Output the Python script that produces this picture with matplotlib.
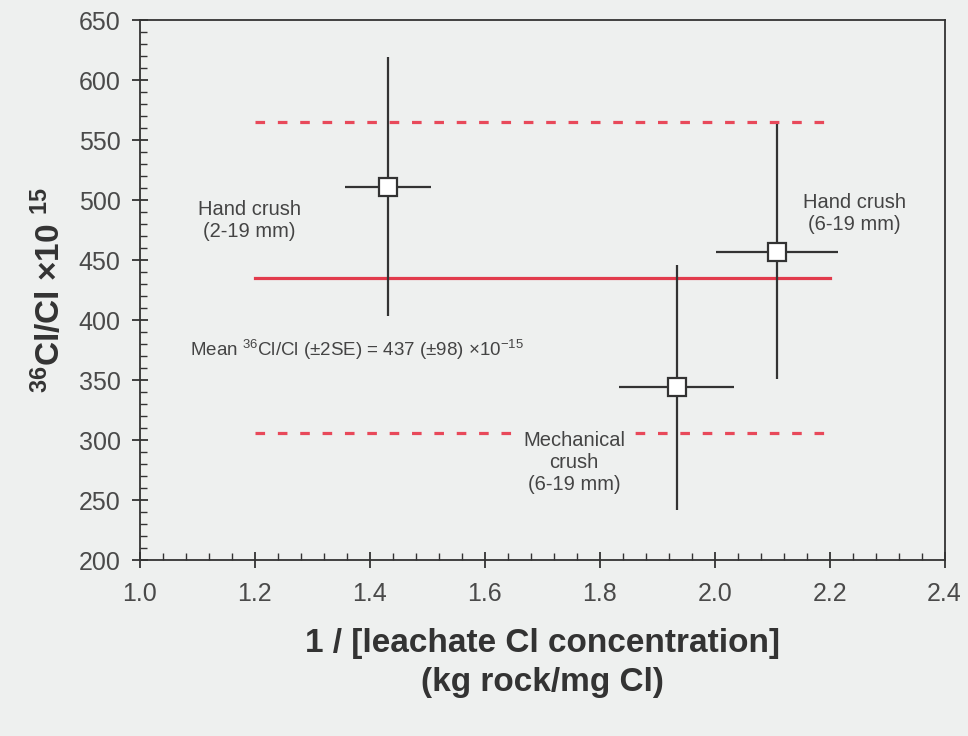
import matplotlib
matplotlib.use('Agg')
import matplotlib.pyplot as plt
from matplotlib.ticker import MultipleLocator

# data
inv_conc = [1.431, 1.934, 2.108]
inv_conc_err = [0.075, 0.100, 0.106]
ratio = [511, 344, 457]
ratio_err = [108, 102, 106]

mean_ratio = 435
band_upper = 565
band_lower = 306
line_x = [1.2, 2.2]

labels = ['Hand crush\n(2-19 mm)', 'Mechanical\ncrush\n(6-19 mm)', 'Hand crush\n(6-19 mm)']
label_x = [1.19, 1.755, 2.243]
label_y = [483, 281, 489]

plt.rcParams['font.family'] = ['Liberation Sans', 'DejaVu Sans']
plt.rcParams['mathtext.fontset'] = 'custom'
plt.rcParams['mathtext.rm'] = 'Liberation Sans'
plt.rcParams['mathtext.it'] = 'Liberation Sans:italic'
plt.rcParams['mathtext.bf'] = 'Liberation Sans:bold'

bg = '#eef0ef'
fig = plt.figure(figsize=(9.68, 7.36), dpi=100, facecolor=bg)
ax = fig.add_axes([0.1446, 0.2391, 0.8312, 0.7337], facecolor=bg)

# mean and +/- band
ax.plot(line_x, [mean_ratio] * 2, color='#e23b4c', lw=2.3, zorder=1)
for yv in (band_upper, band_lower):
    ax.plot(line_x, [yv] * 2, color='#e8495a', lw=2.3, dashes=(3, 4), zorder=1)

ax.errorbar(inv_conc, ratio, xerr=inv_conc_err, yerr=ratio_err, fmt='s',
            color='#333333', ecolor='#333333', elinewidth=1.6, capsize=0,
            markersize=13, markerfacecolor='white', markeredgecolor='#333333',
            markeredgewidth=1.6, zorder=3)

for t, x, y in zip(labels, label_x, label_y):
    ax.text(x, y, t, ha='center', va='center', fontsize=14.5, color='#444444',
            linespacing=1.2, zorder=2,
            bbox=dict(facecolor=bg, edgecolor='none', pad=5))

ax.text(1.087, 375, r'Mean $\mathrm{^{36}}$Cl/Cl ($\mathrm{\pm}$2SE) = 437 ($\mathrm{\pm}$98) $\mathrm{\times}$10$\mathrm{^{-15}}$',
        ha='left', va='center', fontsize=13.5, color='#444444')

ax.set_xlim(1.0, 2.4)
ax.set_ylim(200, 650)
ax.xaxis.set_major_locator(MultipleLocator(0.2))
ax.xaxis.set_minor_locator(MultipleLocator(0.04))
ax.yaxis.set_major_locator(MultipleLocator(50))
ax.yaxis.set_minor_locator(MultipleLocator(10))
ax.xaxis.set_major_formatter(plt.FuncFormatter(lambda v, p: f'{v:.1f}'))

ax.tick_params(which='major', direction='inout', length=12, width=1.3,
               colors='#333333', labelsize=18, labelcolor='#4a4a4a')
ax.tick_params(which='minor', direction='in', length=5, width=1.0, colors='#333333')
ax.tick_params(axis='x', which='major', pad=10)
ax.tick_params(axis='y', which='major', pad=8)
for s in ax.spines.values():
    s.set_color('#333333')
    s.set_linewidth(1.3)

ax.set_ylabel(r'$\mathbf{^{36}}$Cl/Cl $\mathbf{\times}$10 $\mathbf{^{15}}$',
              fontsize=24, fontweight='bold', color='#333333', labelpad=8)
ax.set_xlabel('1 / [leachate Cl concentration]\n(kg rock/mg Cl)',
              fontsize=24, fontweight='bold', color='#333333', labelpad=16,
              linespacing=1.3)

fig.savefig('out.png', dpi=100, facecolor=bg)
